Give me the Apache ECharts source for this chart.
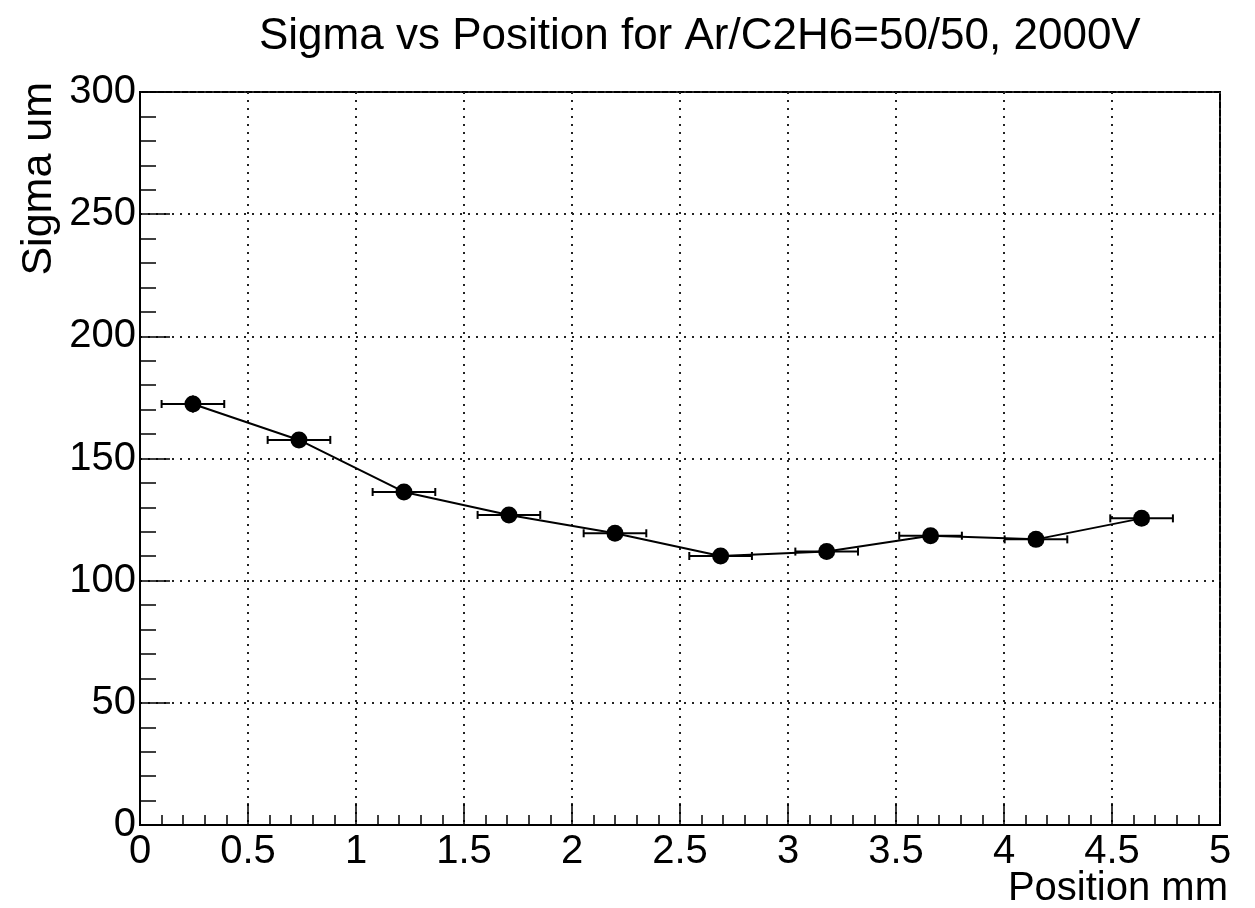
<!DOCTYPE html>
<html>
  <head>
    <meta charset="utf-8">
    <title>Sigma vs Position</title>
    <style>
      html, body { margin: 0; padding: 0; background: #fff; }
    </style>
  </head>
  <body>
    <div id="main" style="width: 1255px;height:908px;"></div>

  <script src="https://cdn.jsdelivr.net/npm/echarts@6/dist/echarts.min.js" charset="utf-8"></script>
  <script type="text/javascript">
  // measured points (position in mm, sigma in um)
  var positions = [0.245, 0.736, 1.222, 1.708, 2.199, 2.688, 3.179, 3.660, 4.148, 4.637];
  var sigmas    = [172.3, 157.6, 136.3, 126.9, 119.4, 110.1, 111.9, 118.4, 116.9, 125.5];
  var posErr    = [0.145, 0.145, 0.145, 0.145, 0.145, 0.145, 0.145, 0.145, 0.145, 0.145];
  var sigmaErr  = [3.5, 2.5, 2.5, 2, 2, 2, 2, 2, 2, 2];

  var FONT = 'Liberation Sans, Arial, Helvetica, sans-serif';

  var points = positions.map(function (x, i) { return [x, sigmas[i]]; });
  var errData = positions.map(function (x, i) {
    return [x, sigmas[i], posErr[i], sigmaErr[i]];
  });

  // horizontal + vertical error bars with small caps
  function renderErr(params, api) {
    var x = api.value(0), y = api.value(1), ex = api.value(2), ey = api.value(3);
    var l = api.coord([x - ex, y]);
    var r = api.coord([x + ex, y]);
    var t = api.coord([x, y + ey]);
    var b = api.coord([x, y - ey]);
    var cap = 4;
    var st = { stroke: '#000', lineWidth: 2 };
    return {
      type: 'group',
      children: [
        { type: 'line', shape: { x1: l[0], y1: l[1], x2: r[0], y2: r[1] }, style: st },
        { type: 'line', shape: { x1: l[0], y1: l[1] - cap, x2: l[0], y2: l[1] + cap }, style: st },
        { type: 'line', shape: { x1: r[0], y1: r[1] - cap, x2: r[0], y2: r[1] + cap }, style: st },
        { type: 'line', shape: { x1: t[0], y1: t[1], x2: b[0], y2: b[1] }, style: st }
      ]
    };
  }

  var myChart = echarts.init(document.getElementById('main'));

  var option = {
    backgroundColor: '#fff',
    animation: false,
    title: {
      text: 'Sigma vs Position for Ar/C2H6=50/50, 2000V',
      left: 254,
      top: 10,
      textStyle: { fontFamily: FONT, fontSize: 44, fontWeight: 'normal', color: '#000' }
    },
    grid: {
      left: 140, right: 35, top: 92, bottom: 83,
      show: true, borderColor: '#000', borderWidth: 2, backgroundColor: 'transparent'
    },
    xAxis: {
      type: 'value',
      min: 0, max: 5, interval: 0.5,
      axisLine: { show: true, lineStyle: { color: '#000', width: 2 } },
      axisTick: { show: true, inside: true, length: 22, lineStyle: { color: '#000', width: 1.5 } },
      minorTick: { show: true, splitNumber: 5, length: 10, lineStyle: { color: '#000', width: 1.5 } },
      axisLabel: { fontFamily: FONT, fontSize: 40, color: '#000', margin: 7 },
      splitLine: { show: true, lineStyle: { color: '#222', width: 2, type: [2, 6] } }
    },
    yAxis: {
      type: 'value',
      min: 0, max: 300, interval: 50,
      axisLine: { show: true, lineStyle: { color: '#000', width: 2 } },
      axisTick: { show: true, inside: true, length: 30, lineStyle: { color: '#000', width: 1.5 } },
      minorTick: { show: true, splitNumber: 5, length: 16, lineStyle: { color: '#000', width: 1.5 } },
      axisLabel: { fontFamily: FONT, fontSize: 40, color: '#000', margin: 4 },
      splitLine: { show: true, lineStyle: { color: '#222', width: 2, type: [2, 6] } }
    },
    graphic: [
      {
        type: 'text', right: 27, top: 869,
        style: { text: 'Position mm', font: '40px ' + FONT, fill: '#000' }
      },
      {
        type: 'text', x: 39, y: 82, rotation: Math.PI / 2,
        style: { text: 'Sigma um', font: '43px ' + FONT, fill: '#000', align: 'right', verticalAlign: 'middle' }
      }
    ],
    series: [
      {
        type: 'custom',
        renderItem: renderErr,
        data: errData,
        z: 2
      },
      {
        type: 'line',
        data: points,
        symbol: 'circle',
        symbolSize: 17,
        itemStyle: { color: '#000' },
        lineStyle: { color: '#000', width: 2 },
        z: 3
      }
    ]
  };
  myChart.setOption(option);
  </script>
  </body>
</html>
